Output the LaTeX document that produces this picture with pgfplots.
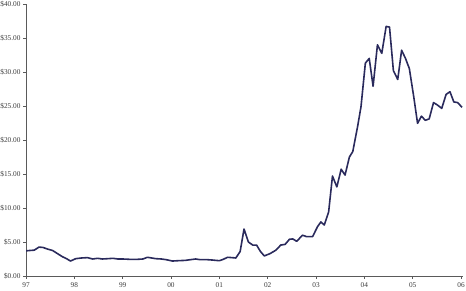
\documentclass[border=0pt]{standalone}
\usepackage{pgfplots}
\pgfplotsset{compat=1.18}
\usepackage{fontspec}
\setmainfont{Liberation Serif}
\definecolor{linec}{RGB}{42,42,92}
\definecolor{axc}{RGB}{90,90,90}
\definecolor{labc}{RGB}{60,60,60}
\begin{document}
\begin{tikzpicture}
\path[use as bounding box] (0,0) rectangle (466pt,291pt);
\begin{axis}[
  at={(26pt,15pt)}, anchor=south west,
  scale only axis, width=437pt, height=272pt,
  xmin=1997, xmax=2006.04, ymin=0, ymax=40,
  axis x line*=bottom, axis y line*=left,
  axis line style={axc, line width=0.8pt, -},
  xtick={1997,...,2006},
  xticklabels={97,98,99,00,01,02,03,04,05,06},
  ytick={0,5,...,40},
  yticklabels={\$0.00,\$5.00,\$10.00,\$15.00,\$20.00,\$25.00,\$30.00,\$35.00,\$40.00},
  tick style={axc, line width=0.6pt},
  tick align=outside, major tick length=3pt,
  ticklabel style={font=\fontsize{7.3}{8}\selectfont, text=labc},
  yticklabel style={xshift=1pt},
  xticklabel style={yshift=0pt},
]
\addplot[linec, line width=1.6pt, line join=round] coordinates {
(1997.00,3.7) (1997.08,3.75) (1997.17,3.8) (1997.27,4.25) (1997.35,4.2)
(1997.45,3.95) (1997.55,3.75) (1997.65,3.3) (1997.75,2.85) (1997.85,2.5)
(1997.92,2.2) (1998.03,2.55) (1998.15,2.65) (1998.27,2.7) (1998.38,2.5)
(1998.48,2.6) (1998.58,2.5) (1998.70,2.55) (1998.80,2.6) (1998.90,2.5)
(1999.00,2.5) (1999.15,2.45) (1999.30,2.45) (1999.42,2.5) (1999.51,2.75)
(1999.60,2.65) (1999.68,2.55) (1999.80,2.5) (1999.90,2.4) (2000.03,2.2)
(2000.15,2.25) (2000.30,2.3) (2000.40,2.4) (2000.51,2.5) (2000.60,2.4)
(2000.75,2.4) (2000.85,2.35) (2001.00,2.25) (2001.08,2.45) (2001.17,2.75)
(2001.26,2.7) (2001.34,2.65) (2001.43,3.6) (2001.51,6.9) (2001.60,5.0)
(2001.69,4.55) (2001.77,4.55) (2001.85,3.6) (2001.93,2.95) (2002.05,3.3)
(2002.17,3.8) (2002.27,4.55) (2002.36,4.65) (2002.45,5.4) (2002.52,5.45)
(2002.60,5.1) (2002.72,6.0) (2002.80,5.8) (2002.93,5.8) (2003.03,7.25)
(2003.10,7.95) (2003.17,7.5) (2003.26,9.4) (2003.34,14.7) (2003.43,13.1)
(2003.52,15.7) (2003.60,14.85) (2003.69,17.5) (2003.76,18.3) (2003.86,22.0)
(2003.93,24.9) (2004.02,31.3) (2004.10,32.0) (2004.18,27.9) (2004.27,34.0)
(2004.36,32.75) (2004.45,36.7) (2004.52,36.6) (2004.60,30.2) (2004.69,28.9)
(2004.77,33.2) (2004.85,32.0) (2004.93,30.5) (2005.02,26.4) (2005.10,22.45)
(2005.18,23.5) (2005.26,22.9) (2005.34,23.1) (2005.43,25.5) (2005.51,25.15)
(2005.60,24.65) (2005.69,26.7) (2005.77,27.1) (2005.85,25.6) (2005.93,25.5)
(2006.02,24.8)
};
\end{axis}
\end{tikzpicture}
\end{document}
